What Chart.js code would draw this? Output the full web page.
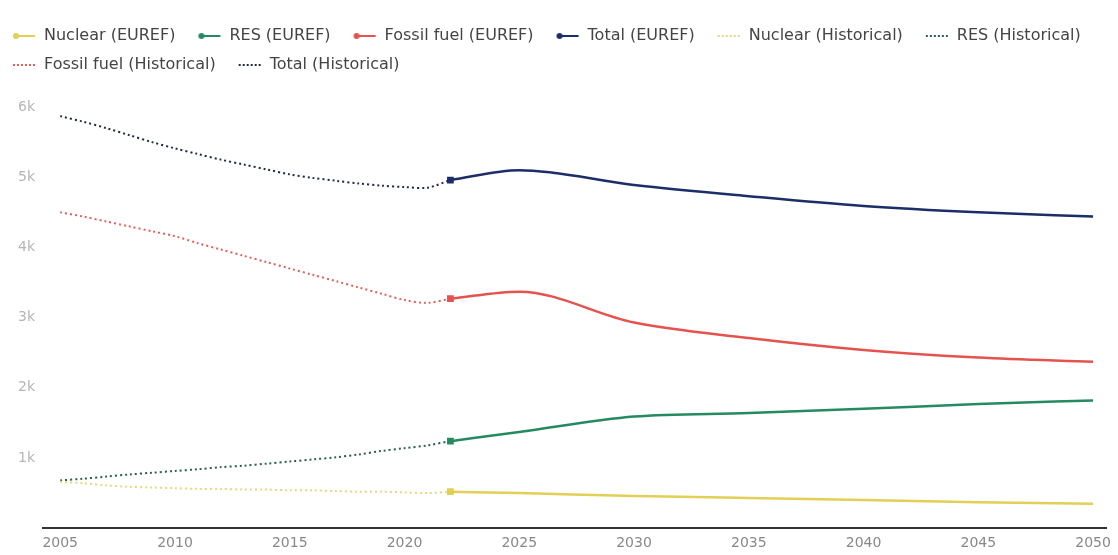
<!DOCTYPE html>
<html lang="en">
<head>
    <meta charset="UTF-8">
    <script src="https://cdn.jsdelivr.net/npm/chart.js"></script>
    <style>
        body {
            margin: 0;
            background: #fff;
        }
        .chart-container {
            width: 1118px;
            height: 555px;
        }
    </style>
</head>
<body>
    <div class="chart-container">
        <canvas id="energyChart"></canvas>
    </div>
    <script>
        // historical, yearly
        const histYears = [2005, 2006, 2007, 2008, 2009, 2010, 2011, 2012, 2013, 2014, 2015, 2016, 2017, 2018, 2019, 2020, 2021, 2022];
        const histNuclear = [660, 640, 610, 590, 580, 570, 560, 560, 550, 550, 540, 540, 530, 520, 520, 510, 500, 520];
        const histRes = [680, 705, 735, 765, 790, 815, 840, 870, 890, 920, 950, 980, 1010, 1050, 1100, 1140, 1180, 1240];
        const histFossil = [4500, 4440, 4370, 4300, 4230, 4160, 4060, 3970, 3880, 3790, 3700, 3610, 3520, 3430, 3340, 3250, 3210, 3270];
        const histTotal = [5870, 5790, 5700, 5600, 5500, 5410, 5330, 5250, 5180, 5110, 5040, 4990, 4950, 4910, 4880, 4860, 4850, 4960];

        // EUREF projection
        const eurefYears = [2022, 2025, 2030, 2035, 2040, 2045, 2050];
        const eurefNuclear = [520, 500, 460, 430, 400, 370, 350];
        const eurefRes = [1240, 1370, 1590, 1640, 1700, 1770, 1820];
        const eurefFossil = [3270, 3370, 2930, 2710, 2540, 2430, 2370];
        const eurefTotal = [4960, 5100, 4890, 4730, 4590, 4500, 4440];

        const xTicks = [2005, 2010, 2015, 2020, 2025, 2030, 2035, 2040, 2045, 2050];

        const FONT = "'DejaVu Sans', sans-serif";
        const ICON_GAP = 9;

        function pairs(xs, ys) {
            return xs.map((x, i) => ({ x: x, y: ys[i] }));
        }

        // legend glyphs: line with a dot for EUREF, dotted line for historical
        function legendIcon(color, dotted) {
            const c = document.createElement('canvas');
            c.width = 24 + ICON_GAP;
            c.height = 10;
            const g = c.getContext('2d');
            g.strokeStyle = color;
            g.fillStyle = color;
            g.lineWidth = 2;
            if (dotted) g.setLineDash([2, 2]);
            g.beginPath();
            g.moveTo(ICON_GAP + 1, 5);
            g.lineTo(ICON_GAP + 23, 5);
            g.stroke();
            if (!dotted) {
                g.beginPath();
                g.arc(ICON_GAP + 4, 5, 3, 0, Math.PI * 2);
                g.fill();
            }
            return c;
        }

        function euref(label, values, color) {
            return {
                label: label,
                data: pairs(eurefYears, values),
                borderColor: color,
                backgroundColor: color,
                borderWidth: 2.5,
                pointRadius: eurefYears.map((y, i) => i === 0 ? 3 : 0),
                pointStyle: 'rect',
                cubicInterpolationMode: 'monotone',
                fill: false,
                icon: legendIcon(color, false)
            };
        }

        function historical(label, values, color) {
            return {
                label: label,
                data: pairs(histYears, values),
                borderColor: color,
                backgroundColor: color,
                borderWidth: 2,
                borderDash: [2, 3],
                pointRadius: 0,
                tension: 0.3,
                fill: false,
                icon: legendIcon(color, true)
            };
        }

        // more room under the legend, and pull it to the left edge
        const legendSpace = {
            id: 'legendSpace',
            beforeInit(chart) {
                const fit = chart.legend.fit;
                chart.legend.fit = function () {
                    fit.call(this);
                    this.height += 24;
                };
            },
            afterLayout(chart) {
                chart.legend.left -= 10;
                chart.legend.right -= 10;
            }
        };

        const ctx = document.getElementById('energyChart').getContext('2d');
        const chart = new Chart(ctx, {
            type: 'line',
            plugins: [legendSpace],
            data: {
                datasets: [
                    euref('Nuclear (EUREF)', eurefNuclear, '#e2cf55'),
                    euref('RES (EUREF)', eurefRes, '#258a5f'),
                    euref('Fossil fuel (EUREF)', eurefFossil, '#e5534f'),
                    euref('Total (EUREF)', eurefTotal, '#1c2d68'),
                    historical('Nuclear (Historical)', histNuclear, '#e6d87a'),
                    historical('RES (Historical)', histRes, '#2e5f4a'),
                    historical('Fossil fuel (Historical)', histFossil, '#e0605a'),
                    historical('Total (Historical)', histTotal, '#222a44')
                ]
            },
            options: {
                responsive: true,
                maintainAspectRatio: false,
                animation: false,
                layout: {
                    padding: { left: 0, right: 8, top: 15, bottom: 0 }
                },
                plugins: {
                    tooltip: { enabled: false },
                    legend: {
                        position: 'top',
                        align: 'start',
                        labels: {
                            usePointStyle: true,
                            pointStyleWidth: 24 + ICON_GAP,
                            padding: 13,
                            color: '#444',
                            font: { family: FONT, size: 16 },
                            generateLabels: (ch) => ch.data.datasets.map((ds, i) => ({
                                text: ds.label,
                                datasetIndex: i,
                                pointStyle: ds.icon,
                                fontColor: '#444',
                                lineWidth: 0,
                                hidden: false
                            }))
                        }
                    }
                },
                scales: {
                    x: {
                        type: 'linear',
                        min: 2004.25,
                        max: 2050.6,
                        afterBuildTicks: (axis) => {
                            axis.ticks = xTicks.map(v => ({ value: v }));
                        },
                        afterFit: (axis) => { axis.height -= 4; },
                        grid: { display: false, drawTicks: false },
                        border: { display: true, color: '#333', width: 2 },
                        ticks: {
                            color: '#888',
                            padding: 7,
                            font: { family: FONT, size: 14 },
                            maxRotation: 0,
                            callback: (v) => String(v)
                        }
                    },
                    y: {
                        min: 0,
                        max: 6000,
                        afterFit: (axis) => { axis.width = 43; },
                        grid: { display: false, drawTicks: false },
                        border: { display: false },
                        ticks: {
                            stepSize: 1000,
                            padding: 8,
                            color: '#b5b5b5',
                            font: { family: FONT, size: 14 },
                            callback: (v) => v === 0 ? '' : (v / 1000) + 'k'
                        }
                    }
                }
            }
        });
    </script>
</body>
</html>
